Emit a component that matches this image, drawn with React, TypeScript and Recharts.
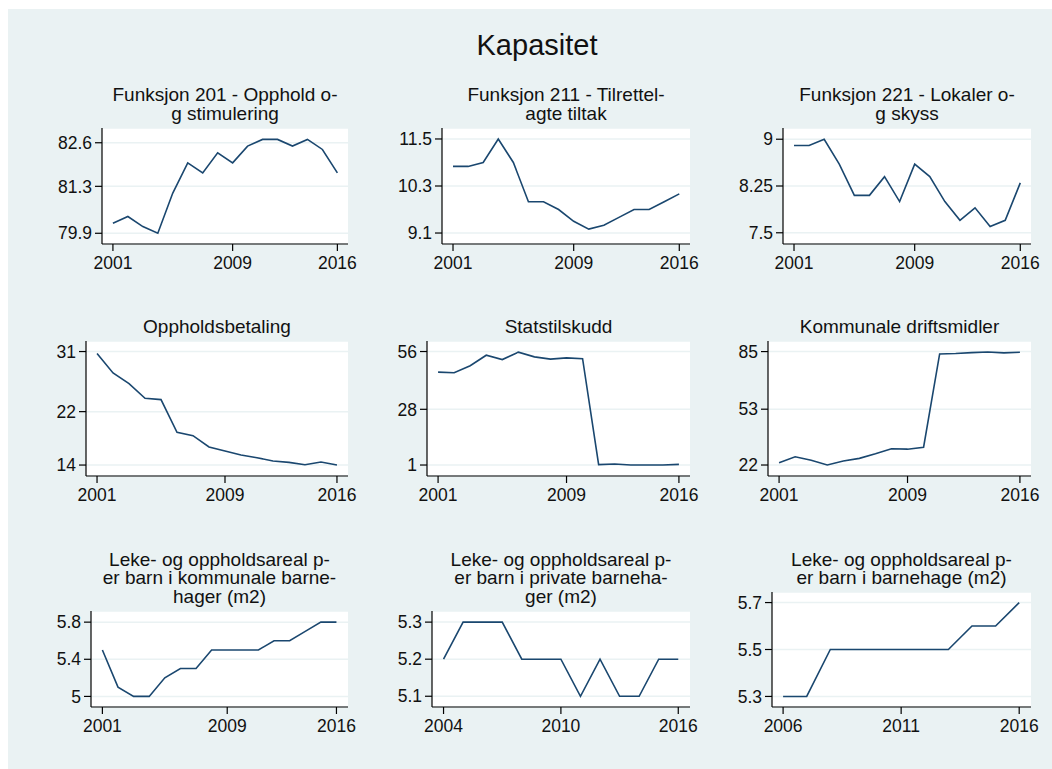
import React from "react";
import { LineChart, Line, XAxis, YAxis, CartesianGrid } from "recharts";

const FONT = '"Liberation Sans", Arial, Helvetica, sans-serif';
const NAVY = "#1A476F";
const BG = "#EAF2F3";

// years on the x axis
const years01 = [2001, 2002, 2003, 2004, 2005, 2006, 2007, 2008, 2009, 2010, 2011, 2012, 2013, 2014, 2015, 2016];
const years04 = [2004, 2005, 2006, 2007, 2008, 2009, 2010, 2011, 2012, 2013, 2014, 2015, 2016];
const years06 = [2006, 2007, 2008, 2009, 2010, 2011, 2012, 2013, 2014, 2015, 2016];

// series values
const funksjon201 = [80.2, 80.4, 80.1, 79.9, 81.1, 82.0, 81.7, 82.3, 82.0, 82.5, 82.7, 82.7, 82.5, 82.7, 82.4, 81.7];
const funksjon211 = [10.8, 10.8, 10.9, 11.5, 10.9, 9.9, 9.9, 9.7, 9.4, 9.2, 9.3, 9.5, 9.7, 9.7, 9.9, 10.1];
const funksjon221 = [8.9, 8.9, 9.0, 8.6, 8.1, 8.1, 8.4, 8.0, 8.6, 8.4, 8.0, 7.7, 7.9, 7.6, 7.7, 8.3];
const oppholdsbetaling = [30.7, 27.8, 26.2, 24.0, 23.8, 18.9, 18.4, 16.7, 16.1, 15.5, 15.1, 14.6, 14.4, 14.05, 14.45, 14.0];
const statstilskudd = [46.0, 45.7, 49.1, 54.2, 52.1, 55.7, 53.4, 52.3, 52.9, 52.5, 1.2, 1.5, 1.0, 1.0, 1.0, 1.3];
const driftsmidler = [23.3, 26.6, 24.6, 22.0, 24.2, 25.7, 28.2, 31.0, 30.8, 31.9, 83.7, 83.9, 84.4, 84.8, 84.3, 84.6];
const arealKommunale = [5.5, 5.1, 5.0, 5.0, 5.2, 5.3, 5.3, 5.5, 5.5, 5.5, 5.5, 5.6, 5.6, 5.7, 5.8, 5.8];
const arealPrivate = [5.2, 5.3, 5.3, 5.3, 5.2, 5.2, 5.2, 5.1, 5.2, 5.1, 5.1, 5.2, 5.2];
const arealAlle = [5.3, 5.3, 5.5, 5.5, 5.5, 5.5, 5.5, 5.5, 5.6, 5.6, 5.7];

// tick labels
const xTicks01 = [2001, 2009, 2016];
const xTicks04 = [2004, 2010, 2016];
const xTicks06 = [2006, 2011, 2016];
const yTicks201 = [79.9, 81.3, 82.6];
const yTicks211 = [9.1, 10.3, 11.5];
const yTicks221 = [7.5, 8.25, 9];
const yTicksBetaling = [14, 22, 31];
const yTicksStats = [1, 28, 56];
const yTicksDrift = [22, 53, 85];
const yTicksKommunale = [5, 5.4, 5.8];
const yTicksPrivate = [5.1, 5.2, 5.3];
const yTicksAlle = [5.3, 5.5, 5.7];

const mainTitle = "Kapasitet";

// page offset of the grey background
const OX = 8;
const OY = 9;
const YW = 70; // y axis width
const XH = 40; // x axis height
const RM = 25; // right margin

const panels = [
  { title: ["Funksjon 201 - Opphold o-", "g stimulering"], years: years01, values: funksjon201, xTicks: xTicks01, xDomain: [2000.27, 2016.71], yTicks: yTicks201, yDomain: [79.58, 83.04], box: { l: 102, r: 348, t: 128, b: 244 }, base: 101.7 },
  { title: ["Funksjon 211 - Tilrettel-", "agte tiltak"], years: years01, values: funksjon211, xTicks: xTicks01, xDomain: [2000.27, 2016.71], yTicks: yTicks211, yDomain: [8.82, 11.78], box: { l: 442, r: 690, t: 128, b: 244 }, base: 101.7 },
  { title: ["Funksjon 221 - Lokaler o-", "g skyss"], years: years01, values: funksjon221, xTicks: xTicks01, xDomain: [2000.27, 2016.71], yTicks: yTicks221, yDomain: [7.32, 9.18], box: { l: 783, r: 1031, t: 128, b: 244 }, base: 101.7 },
  { title: ["Oppholdsbetaling"], years: years01, values: oppholdsbetaling, xTicks: xTicks01, xDomain: [2000.31, 2016.69], yTicks: yTicksBetaling, yDomain: [12.36, 32.58], box: { l: 86, r: 348, t: 341, b: 476 }, base: 333.3 },
  { title: ["Statstilskudd"], years: years01, values: statstilskudd, xTicks: xTicks01, xDomain: [2000.31, 2016.69], yTicks: yTicksStats, yDomain: [-4.32, 61.1], box: { l: 427, r: 690, t: 341, b: 476 }, base: 333.3 },
  { title: ["Kommunale driftsmidler"], years: years01, values: driftsmidler, xTicks: xTicks01, xDomain: [2000.31, 2016.69], yTicks: yTicksDrift, yDomain: [15.9, 90.87], box: { l: 768, r: 1031, t: 341, b: 476 }, base: 333.3 },
  { title: ["Leke- og oppholdsareal p-", "er barn i kommunale barne-", "hager (m2)"], years: years01, values: arealKommunale, xTicks: xTicks01, xDomain: [2000.27, 2016.74], yTicks: yTicksKommunale, yDomain: [4.886, 5.92], box: { l: 91, r: 348, t: 611, b: 707 }, base: 566 },
  { title: ["Leke- og oppholdsareal p-", "er barn i private barneha-", "ger (m2)"], years: years04, values: arealPrivate, xTicks: xTicks04, xDomain: [2003.41, 2016.6], yTicks: yTicksPrivate, yDomain: [5.071, 5.33], box: { l: 432, r: 690, t: 611, b: 707 }, base: 566 },
  { title: ["Leke- og oppholdsareal p-", "er barn i barnehage (m2)"], years: years06, values: arealAlle, xTicks: xTicks06, xDomain: [2005.53, 2016.5], yTicks: yTicksAlle, yDomain: [5.255, 5.745], box: { l: 772, r: 1031, t: 592, b: 707 }, base: 566 },
];

const tickStyle = { fill: "#111", fontSize: 17.5, fontFamily: FONT };

function Panel({ p }: { p: (typeof panels)[number] }) {
  const data = p.years.map((year, i) => ({ year, value: p.values[i] }));
  const plotW = p.box.r - p.box.l;
  const plotH = p.box.b - p.box.t;
  return (
    <>
      <div
        style={{
          position: "absolute",
          left: p.box.l - OX - 100,
          width: plotW + 200,
          top: p.base - OY - 15.5,
          textAlign: "center",
          fontFamily: FONT,
          fontSize: 19,
          lineHeight: "18.7px",
          color: "#111",
          whiteSpace: "nowrap",
        }}
      >
        {p.title.map((line) => (
          <div key={line}>{line}</div>
        ))}
      </div>
      <div style={{ position: "absolute", left: p.box.l - OX - YW, top: p.box.t - OY }}>
        <LineChart
          width={YW + plotW + RM}
          height={plotH + XH}
          data={data}
          margin={{ top: 0, right: RM, bottom: 0, left: 0 }}
        >
          <CartesianGrid vertical={false} stroke={BG} strokeWidth={1.5} fill="#fff" fillOpacity={1} />
          <XAxis
            dataKey="year"
            type="number"
            domain={p.xDomain}
            ticks={p.xTicks}
            allowDataOverflow
            interval={0}
            height={XH}
            tickSize={7}
            tickMargin={6}
            tick={tickStyle}
            axisLine={{ stroke: "#000", strokeWidth: 1.2 }}
            tickLine={{ stroke: "#000", strokeWidth: 1.2 }}
          />
          <YAxis
            type="number"
            domain={p.yDomain}
            ticks={p.yTicks}
            allowDataOverflow
            interval={0}
            width={YW}
            tickSize={7}
            tickMargin={3}
            tick={tickStyle}
            axisLine={{ stroke: "#000", strokeWidth: 1.2 }}
            tickLine={{ stroke: "#000", strokeWidth: 1.2 }}
          />
          <Line
            type="linear"
            dataKey="value"
            stroke={NAVY}
            strokeWidth={1.6}
            dot={false}
            activeDot={false}
            isAnimationActive={false}
          />
        </LineChart>
      </div>
    </>
  );
}

export default function App() {
  return (
    <div
      style={{
        position: "fixed",
        left: OX,
        top: OY,
        width: 1044,
        height: 760,
        background: BG,
        overflow: "hidden",
      }}
    >
      <div
        style={{
          position: "absolute",
          left: 537 - OX - 200,
          width: 400,
          top: 55 - OY - 24.5,
          textAlign: "center",
          fontFamily: FONT,
          fontSize: 29,
          lineHeight: "29px",
          color: "#111",
        }}
      >
        {mainTitle}
      </div>
      {panels.map((p) => (
        <Panel key={p.title.join(" ")} p={p} />
      ))}
    </div>
  );
}
